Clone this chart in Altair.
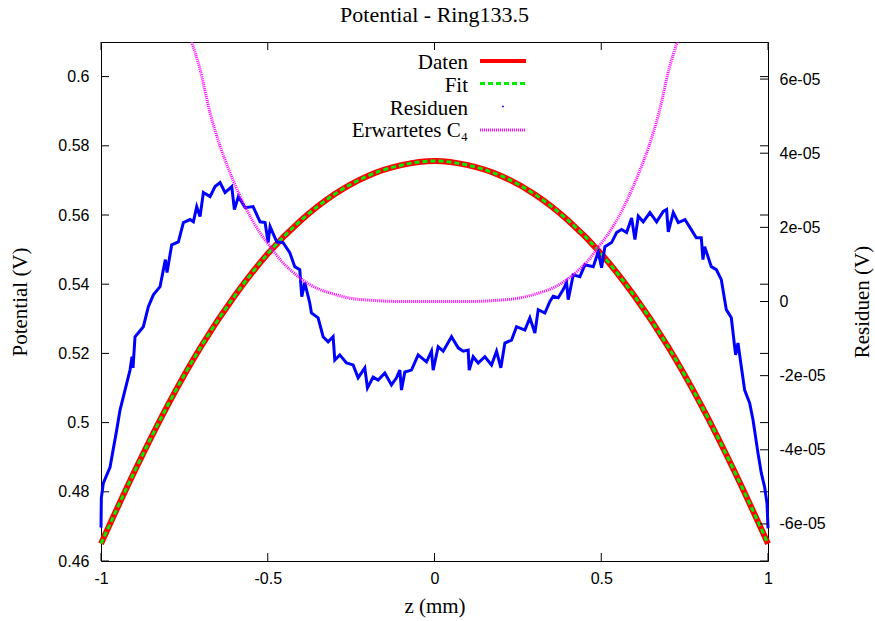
import altair as alt
import pandas as pd

# ---------------- data ----------------
z_grid = [-1.0, -0.9, -0.8, -0.7, -0.6, -0.5, -0.4, -0.3, -0.2, -0.1, 0.0,
          0.1, 0.2, 0.3, 0.4, 0.5, 0.6, 0.7, 0.8, 0.9, 1.0]
daten_values = [0.4650, 0.4858, 0.5050, 0.5220, 0.5365, 0.5488, 0.5585, 0.5660, 0.5713, 0.5744, 0.5756,
                0.5744, 0.5713, 0.5660, 0.5585, 0.5488, 0.5365, 0.5220, 0.5050, 0.4858, 0.4650]
fit_values = [0.4650, 0.4858, 0.5050, 0.5220, 0.5365, 0.5488, 0.5585, 0.5660, 0.5713, 0.5744, 0.5756,
              0.5744, 0.5713, 0.5660, 0.5585, 0.5488, 0.5365, 0.5220, 0.5050, 0.4858, 0.4650]

# residuals, values in units of 1e-5 V
resid_z = [-1.000, -0.999, -0.993, -0.973, -0.953, -0.943, -0.928, -0.913, -0.907, -0.904,
           -0.898, -0.873, -0.858, -0.843, -0.823, -0.807, -0.802, -0.788, -0.768, -0.753,
           -0.733, -0.723, -0.713, -0.703, -0.693, -0.673, -0.658, -0.643, -0.628, -0.608,
           -0.600, -0.588, -0.568, -0.544, -0.523, -0.508, -0.499, -0.493, -0.473, -0.454,
           -0.434, -0.419, -0.404, -0.398, -0.389, -0.374, -0.369, -0.349, -0.334, -0.319,
           -0.304, -0.299, -0.284, -0.264, -0.244, -0.229, -0.209, -0.201, -0.184, -0.169,
           -0.149, -0.129, -0.114, -0.104, -0.099, -0.089, -0.069, -0.049, -0.024, -0.009,
           -0.004, 0.011, 0.026, 0.051, 0.071, 0.086, 0.101, 0.104, 0.116, 0.131,
           0.151, 0.171, 0.186, 0.199, 0.211, 0.231, 0.246, 0.271, 0.286, 0.301,
           0.311, 0.331, 0.346, 0.356, 0.371, 0.386, 0.396, 0.401, 0.416, 0.436,
           0.451, 0.476, 0.491, 0.501, 0.511, 0.531, 0.546, 0.561, 0.576, 0.591,
           0.601, 0.611, 0.626, 0.646, 0.666, 0.686, 0.696, 0.701, 0.716, 0.731,
           0.751, 0.770, 0.785, 0.800, 0.805, 0.810, 0.830, 0.845, 0.860, 0.865,
           0.875, 0.890, 0.900, 0.903, 0.910, 0.920, 0.930, 0.945, 0.955, 0.970,
           0.980, 0.990, 0.997, 1.000]
resid_e5 = [-6.10, -5.30, -4.90, -4.47, -3.47, -2.93, -2.39, -1.85, -1.49, -1.79,
            -0.95, -0.68, -0.14, 0.18, 0.40, 1.13, 0.78, 1.53, 1.61, 2.13,
            2.21, 2.15, 2.56, 2.29, 2.94, 2.83, 3.10, 3.21, 2.94, 3.10,
            2.48, 2.83, 2.53, 2.56, 2.15, 2.13, 1.59, 2.02, 1.61, 1.59,
            1.32, 0.94, 0.86, 0.13, 0.51, -0.04, -0.31, -0.44, -0.95, -1.09,
            -0.95, -1.58, -1.44, -1.66, -1.71, -2.06, -1.79, -2.33, -2.04, -2.12,
            -1.93, -2.25, -2.06, -1.85, -2.39, -1.90, -1.85, -1.44, -1.63, -1.34,
            -1.85, -1.22, -1.34, -0.95, -1.25, -1.34, -1.31, -1.85, -1.49, -1.66,
            -1.49, -1.71, -1.34, -1.79, -1.12, -1.04, -0.68, -0.77, -0.44, -0.85,
            -0.22, -0.31, 0.00, 0.14, 0.10, 0.32, 0.51, 0.05, 0.72, 0.67,
            0.99, 0.94, 1.34, 0.91, 1.48, 1.59, 1.86, 1.94, 1.86, 2.25,
            1.67, 2.30, 2.15, 2.40, 2.15, 2.43, 2.48, 1.88, 2.40, 2.13,
            2.21, 1.94, 1.72, 1.72, 1.13, 1.48, 0.94, 0.86, 0.59, 0.32,
            -0.22, -0.44, -1.22, -1.44, -1.12, -1.76, -2.39, -2.74, -3.19, -4.09,
            -4.63, -5.01, -5.44, -6.12]

# expected C4 curve (visible part), values in units of 1e-5 V
c4_z = [-0.728, -0.703, -0.673, -0.643, -0.613, -0.583, -0.553, -0.523,
        -0.493, -0.463, -0.433, -0.403, -0.373, -0.343, -0.313, -0.253, -0.184, -0.10, 0.0,
        0.10, 0.184, 0.253, 0.313, 0.343, 0.373, 0.403, 0.433, 0.463, 0.493,
        0.523, 0.553, 0.583, 0.613, 0.643, 0.673, 0.703, 0.728]
c4_e5 = [7.0, 6.26, 5.09, 4.19, 3.47, 2.84, 2.30, 1.85,
         1.49, 1.13, 0.86, 0.63, 0.45, 0.32, 0.23, 0.09, 0.03, 0.0, 0.0,
         0.0, 0.03, 0.09, 0.23, 0.32, 0.45, 0.63, 0.86, 1.13, 1.49,
         1.85, 2.30, 2.84, 3.47, 4.19, 5.09, 6.26, 7.0]

x_ticks = [-1, -0.5, 0, 0.5, 1]
y_ticks = [0.46, 0.48, 0.50, 0.52, 0.54, 0.56, 0.58, 0.60]
y2_ticks = [-6e-05, -4e-05, -2e-05, 0.0, 2e-05, 4e-05, 6e-05]
legend_labels = ["Daten", "Fit", "Residuen", "Erwartetes C\u2084"]

# ---------------- layout ----------------
W, H = 667, 519
SERIF = "Liberation Serif"
SANS = "Liberation Sans"
TICK = 8

df_daten = pd.DataFrame({"z": z_grid, "V": daten_values})
df_fit = pd.DataFrame({"z": z_grid, "V": fit_values})
df_res = pd.DataFrame({"z": resid_z, "R": [v * 1e-5 for v in resid_e5]})
df_c4 = pd.DataFrame({"z": c4_z, "R": [v * 1e-5 for v in c4_e5]})
df_xt = pd.DataFrame({"z": x_ticks})
df_yt = pd.DataFrame({"V": y_ticks})
df_y2t = pd.DataFrame({"R": y2_ticks})
df_one = pd.DataFrame({"a": [0]})

x_scale = alt.Scale(domain=[-1, 1], nice=False, zero=False)
yL_scale = alt.Scale(domain=[0.46, 0.61], nice=False, zero=False)
yR_scale = alt.Scale(domain=[-7e-05, 7e-05], nice=False, zero=False)

xax = alt.Axis(values=x_ticks, ticks=False, domain=False, grid=False,
               labelFont=SANS, labelFontSize=16, labelColor="black", labelPadding=9,
               labelFlush=False, labelOverlap=False,
               labelExpr="replace(format(datum.value, '~g'), '\u2212', '-')",
               title="z (mm)", titleFont=SERIF, titleFontSize=21, titleFontWeight="normal",
               titleColor="black", titleY=45, titleBaseline="middle")
yLax = alt.Axis(values=y_ticks, ticks=False, domain=False, grid=False,
                labelFont=SANS, labelFontSize=16, labelColor="black", labelPadding=12,
                labelOverlap=False, labelExpr="format(datum.value, '.2~f')",
                title="Potential (V)", titleFont=SERIF, titleFontSize=21, titleFontWeight="normal",
                titleColor="black", titleX=-81, titleY=H / 2, titleAngle=-90,
                titleAlign="center", titleBaseline="middle")
yRax = alt.Axis(orient="right", values=y2_ticks, ticks=False, domain=False, grid=False,
                labelFont=SANS, labelFontSize=16, labelColor="black", labelPadding=11,
                labelOverlap=False,
                labelExpr="abs(datum.value) < 1e-12 ? '0' : replace(replace(format(datum.value, '.0e'), '\u2212', '-'), 'e-', 'e-0')",
                title="Residuen (V)", titleFont=SERIF, titleFontSize=21, titleFontWeight="normal",
                titleColor="black", titleX=94, titleY=H / 2, titleAngle=-90,
                titleAlign="center", titleBaseline="middle")

X = alt.X("z:Q", scale=x_scale, axis=xax)
YL = alt.Y("V:Q", scale=yL_scale, axis=yLax)
YR = alt.Y("R:Q", scale=yR_scale, axis=yRax)

daten = alt.Chart(df_daten).mark_line(color="#ff0000", strokeWidth=6, interpolate="monotone",
                                      strokeCap="butt").encode(x=X, y=YL)
fit = alt.Chart(df_fit).mark_line(color="#00ee00", strokeWidth=3, strokeDash=[5, 3],
                                  interpolate="monotone", strokeCap="butt").encode(x=X, y=YL)
ytick_l = alt.Chart(df_yt).mark_rule(color="black", strokeWidth=1).encode(
    y=YL, x=alt.value(0), x2=alt.value(TICK))
ytick_r = alt.Chart(df_yt).mark_rule(color="black", strokeWidth=1).encode(
    y=YL, x=alt.value(W - TICK), x2=alt.value(W))
xtick_b = alt.Chart(df_xt).mark_rule(color="black", strokeWidth=1).encode(
    x=X, y=alt.value(H - TICK), y2=alt.value(H))
xtick_t = alt.Chart(df_xt).mark_rule(color="black", strokeWidth=1).encode(
    x=X, y=alt.value(0), y2=alt.value(TICK))
left_group = alt.layer(daten, fit, ytick_l, ytick_r, xtick_b, xtick_t)

resid = alt.Chart(df_res).mark_line(color="#0000ff", strokeWidth=3).encode(x=X, y=YR)
c4 = alt.Chart(df_c4).mark_line(color="#ff00ff", strokeWidth=3, strokeDash=[1, 1],
                                interpolate="monotone", clip=True, strokeCap="butt").encode(x=X, y=YR)
y2tick = alt.Chart(df_y2t).mark_rule(color="black", strokeWidth=1).encode(
    y=YR, x=alt.value(W - TICK), x2=alt.value(W))
right_group = alt.layer(resid, c4, y2tick)

# legend (gnuplot style: label left, sample right)
LX_TEXT, LX0, LX1 = 367, 379, 425
row_y = [27, 49.5, 72.5, 95]
txt = dict(font=SERIF, fontSize=21, color="black", align="right", baseline="alphabetic")
leg = []
for i, lab in enumerate(legend_labels):
    leg.append(alt.Chart(df_one).mark_text(text=lab, **txt).encode(
        x=alt.value(LX_TEXT), y=alt.value(row_y[i])))
leg.append(alt.Chart(df_one).mark_rule(color="#ff0000", strokeWidth=4).encode(
    x=alt.value(LX0), x2=alt.value(LX1), y=alt.value(row_y[0] - 8)))
leg.append(alt.Chart(df_one).mark_rule(color="#00ee00", strokeWidth=3, strokeDash=[5, 3]).encode(
    x=alt.value(LX0), x2=alt.value(LX1), y=alt.value(row_y[1] - 8)))
leg.append(alt.Chart(df_one).mark_square(color="#0000ff", size=3, opacity=1).encode(
    x=alt.value((LX0 + LX1) / 2), y=alt.value(row_y[2] - 8)))
leg.append(alt.Chart(df_one).mark_rule(color="#ff00ff", strokeWidth=3, strokeDash=[1, 1]).encode(
    x=alt.value(LX0), x2=alt.value(LX1), y=alt.value(row_y[3] - 7)))
legend_group = alt.layer(*leg)

chart = alt.layer(left_group, right_group, legend_group).resolve_scale(
    y="independent"
).properties(
    width=W, height=H,
    title=alt.TitleParams("Potential - Ring133.5", font=SERIF, fontSize=22, fontWeight="normal",
                          color="black", anchor="middle", baseline="alphabetic", offset=19, dy=21),
    autosize=alt.AutoSizeParams(type="none"),
    padding={"left": 101, "top": 42, "right": 107, "bottom": 60},
    background="white",
).configure_view(stroke="black", strokeWidth=1)

chart.save("out.html", embed_options={"renderer": "svg", "actions": False})
